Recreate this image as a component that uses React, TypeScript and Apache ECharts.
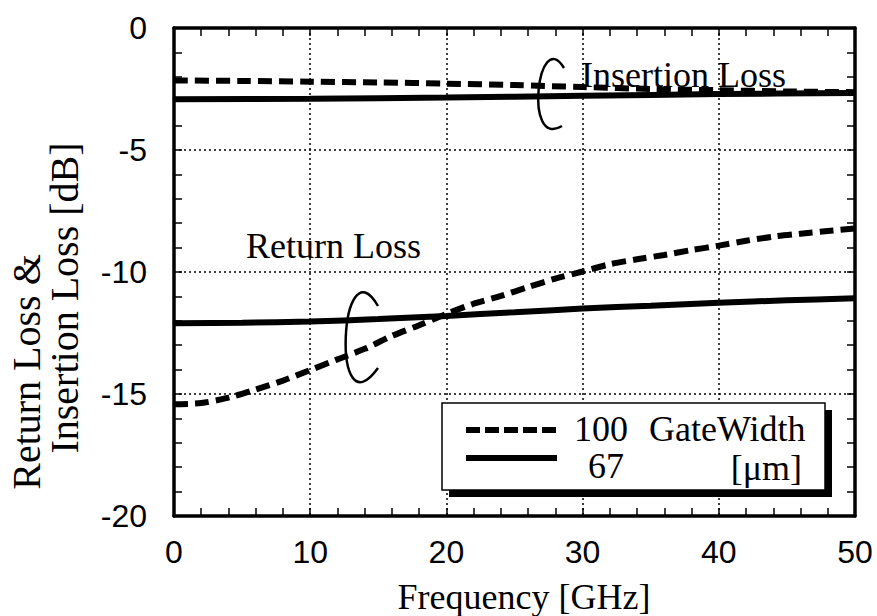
import React, { useEffect, useRef } from "react";
import * as echarts from "echarts";

// Frequency grids [GHz]
const FREQ_RL100 = [0, 2, 4, 6, 8, 10, 12, 14, 16, 18, 20, 22, 24, 26, 28, 30, 32, 34, 36, 38, 40, 42, 44, 46, 48, 50];
const FREQ_5 = [0, 5, 10, 15, 20, 25, 30, 35, 40, 45, 50];
const FREQ_10 = [0, 10, 20, 30, 40, 50];

// Return loss, gate width 100 um (dashed)
const RL_100 = [-15.42, -15.37, -15.15, -14.82, -14.45, -14.02, -13.58, -13.15, -12.62, -12.18, -11.72, -11.3, -10.98, -10.62, -10.27, -9.98, -9.68, -9.48, -9.3, -9.1, -8.92, -8.72, -8.55, -8.43, -8.32, -8.22];
// Return loss, gate width 67 um (solid)
const RL_67 = [-12.1, -12.08, -12.03, -11.93, -11.8, -11.65, -11.5, -11.38, -11.26, -11.16, -11.08];
// Insertion loss, gate width 100 um (dashed)
const IL_100 = [-2.15, -2.17, -2.2, -2.23, -2.28, -2.34, -2.42, -2.5, -2.55, -2.6, -2.63];
// Insertion loss, gate width 67 um (solid)
const IL_67 = [-2.92, -2.9, -2.85, -2.78, -2.71, -2.66];

const X_TICKS = { min: 0, max: 50, interval: 10 };
const Y_TICKS = { min: -20, max: 0, interval: 5 };

const LEGEND_LABELS = ["100", "67"];

const SERIF = '"Liberation Serif", "Times New Roman", serif';
const SANS = '"Liberation Sans", Arial, sans-serif';
const FS = 36;
const FS_YTITLE = 40;

const pairs = (xs: number[], ys: number[]) => xs.map((x, i) => [x, ys[i]]);

export default function App() {
  const ref = useRef<HTMLDivElement>(null);
  useEffect(() => {
    if (!ref.current) return;
    const chart = echarts.init(ref.current, undefined, { renderer: "svg" });
    const dashed = { color: "#000", width: 6, type: [14, 7] as any };
    const solid = { color: "#000", width: 6, type: "solid" as any };
    const tick = { show: true, inside: true, length: 8, lineStyle: { color: "#000", width: 1.5 } };
    const minor = { show: true, splitNumber: 5, length: 8, lineStyle: { color: "#000", width: 1.5 } };
    const axisLine = { show: true, onZero: false, lineStyle: { color: "#000", width: 3.5 } };
    const grid = { show: true, lineStyle: { color: "#000", width: 1.5, type: [2, 3] } };
    const txt = (text: string, x: number, y: number, align: string, extra: any = {}, fs = FS) => ({
      type: "text", x, y, z: 30, ...extra,
      style: { text, fontSize: fs, fontFamily: SERIF, fill: "#000", align, verticalAlign: "middle" },
    });
    chart.setOption({
      animation: false,
      backgroundColor: "#fff",
      grid: { left: 174, right: 22, top: 28, bottom: 100, show: false },
      xAxis: [
        {
          type: "value", ...X_TICKS, position: "bottom", axisLine, axisTick: tick, minorTick: minor,
          axisLabel: { show: true, color: "#000", fontSize: 32, fontFamily: SANS, margin: 20 },
          splitLine: grid,
        },
        {
          type: "value", ...X_TICKS, position: "top", axisLine, axisTick: tick, minorTick: minor,
          axisLabel: { show: false }, splitLine: { show: false },
        },
      ],
      yAxis: [
        {
          type: "value", ...Y_TICKS, position: "left", axisLine, axisTick: tick, minorTick: minor,
          axisLabel: { show: true, color: "#000", fontSize: 32, fontFamily: SANS, margin: 27 },
          splitLine: grid,
        },
        {
          type: "value", ...Y_TICKS, position: "right", axisLine, axisTick: tick, minorTick: minor,
          axisLabel: { show: false }, splitLine: { show: false },
        },
      ],
      series: [
        { name: "IL 100", type: "line", data: pairs(FREQ_5, IL_100), smooth: 0.3, symbol: "none", lineStyle: dashed, z: 3 },
        { name: "IL 67", type: "line", data: pairs(FREQ_10, IL_67), smooth: 0.3, symbol: "none", lineStyle: solid, z: 3 },
        { name: "RL 100", type: "line", data: pairs(FREQ_RL100, RL_100), smooth: 0.3, symbol: "none", lineStyle: dashed, z: 3 },
        { name: "RL 67", type: "line", data: pairs(FREQ_5, RL_67), smooth: 0.3, symbol: "none", lineStyle: solid, z: 3 },
      ],
      graphic: [
        // annotations
        txt("Insertion Loss", 581, 75, "left"),
        {
          type: "bezierCurve", z: 10,
          shape: { x1: 564, y1: 68, cpx1: 538, cpy1: 25, cpx2: 523, cpy2: 150, x2: 562, y2: 126 },
          style: { stroke: "#000", lineWidth: 2.5, fill: "none" },
        },
        txt("Return Loss", 246, 246, "left"),
        {
          type: "bezierCurve", z: 10,
          shape: { x1: 378, y1: 306, cpx1: 340, cpy1: 240, cpx2: 330, cpy2: 435, x2: 378, y2: 368 },
          style: { stroke: "#000", lineWidth: 2.5, fill: "none" },
        },
        // legend box with shadow
        { type: "rect", z: 20, shape: { x: 449, y: 410, width: 383, height: 87 }, style: { fill: "#000" } },
        { type: "rect", z: 21, shape: { x: 442, y: 403, width: 383, height: 87 }, style: { fill: "#fff", stroke: "#000", lineWidth: 1.5 } },
        { type: "line", z: 22, shape: { x1: 466, y1: 430, x2: 557, y2: 430 }, style: { stroke: "#000", lineWidth: 6, lineDash: [14, 5] } },
        { type: "line", z: 22, shape: { x1: 466, y1: 458, x2: 557, y2: 458 }, style: { stroke: "#000", lineWidth: 6 } },
        txt(LEGEND_LABELS[0], 628, 429, "right"),
        txt(LEGEND_LABELS[1], 624, 466, "right"),
        txt("GateWidth", 649, 429, "left"),
        txt("[μm]", 802, 468, "right"),
        // axis titles
        txt("Frequency [GHz]", 524, 597, "center"),
        txt("Return Loss &", 26, 372, "center", { rotation: Math.PI / 2 }, FS_YTITLE),
        txt("Insertion Loss [dB]", 64, 298, "center", { rotation: Math.PI / 2 }, FS_YTITLE),
      ],
    });
    return () => chart.dispose();
  }, []);
  return <div ref={ref} style={{ position: "absolute", left: 0, top: 0, width: 877, height: 616 }} />;
}
